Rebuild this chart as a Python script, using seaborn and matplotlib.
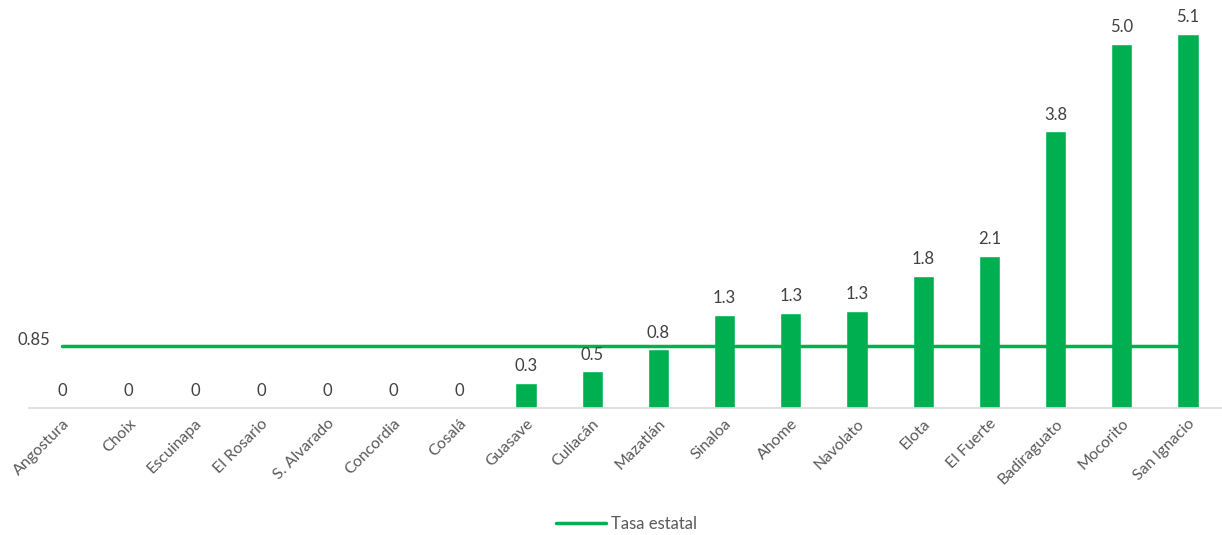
import numpy as np
import pandas as pd
import seaborn as sns
import matplotlib.pyplot as plt

municipios = ['Angostura', 'Choix', 'Escuinapa', 'El Rosario', 'S. Alvarado', 'Concordia',
              'Cosalá', 'Guasave', 'Culiacán', 'Mazatlán', 'Sinaloa', 'Ahome', 'Navolato',
              'Elota', 'El Fuerte', 'Badiraguato', 'Mocorito', 'San Ignacio']
tasas = [0, 0, 0, 0, 0, 0, 0, 0.34, 0.5, 0.8, 1.27, 1.30, 1.33, 1.8, 2.07, 3.77, 4.96, 5.1]
tasa_estatal = 0.85

verde = '#00B050'
gris = '#595959'

sns.set_style('white')
plt.rcParams['font.family'] = ['Lato', 'DejaVu Sans']

df = pd.DataFrame({'municipio': municipios, 'tasa': tasas})

fig = plt.figure(figsize=(12.22, 5.35), dpi=100)
ax = fig.add_axes([0.024, 0.237, 0.978, 0.755])

sns.barplot(data=df, x='municipio', y='tasa', color=verde, width=0.32,
            saturation=1, ax=ax)
sns.lineplot(x=np.arange(len(municipios)), y=[tasa_estatal] * len(municipios),
             color=verde, linewidth=2.5, ax=ax, label='Tasa estatal')

# etiquetas de valor
for i, v in enumerate(tasas):
    txt = '0' if v == 0 else f'{v:.1f}'
    ax.text(i, v + 0.12, txt, ha='center', va='bottom', fontsize=12, color='#404040')
ax.text(-0.18, tasa_estatal + 0.08, '0.85', ha='right', va='center', fontsize=12, color='#404040')

ax.set_ylim(0, 5.5)
ax.set_xlim(-0.5, len(municipios) - 0.45)
ax.set_yticks([])
ax.set_xlabel('')
ax.set_ylabel('')
for s in ['top', 'right', 'left']:
    ax.spines[s].set_visible(False)
ax.spines['bottom'].set_color('#d9d9d9')
ax.spines['bottom'].set_linewidth(1.2)
ax.tick_params(axis='x', length=0, pad=6)
plt.setp(ax.get_xticklabels(), rotation=45, ha='right', rotation_mode='anchor',
         fontsize=11.5, color=gris)

ax.legend(loc='upper center', bbox_to_anchor=(0.5, -0.23), frameon=False,
          fontsize=12, labelcolor=gris, handlelength=3, handletextpad=0.3)

fig.savefig('out.png', dpi=100)
